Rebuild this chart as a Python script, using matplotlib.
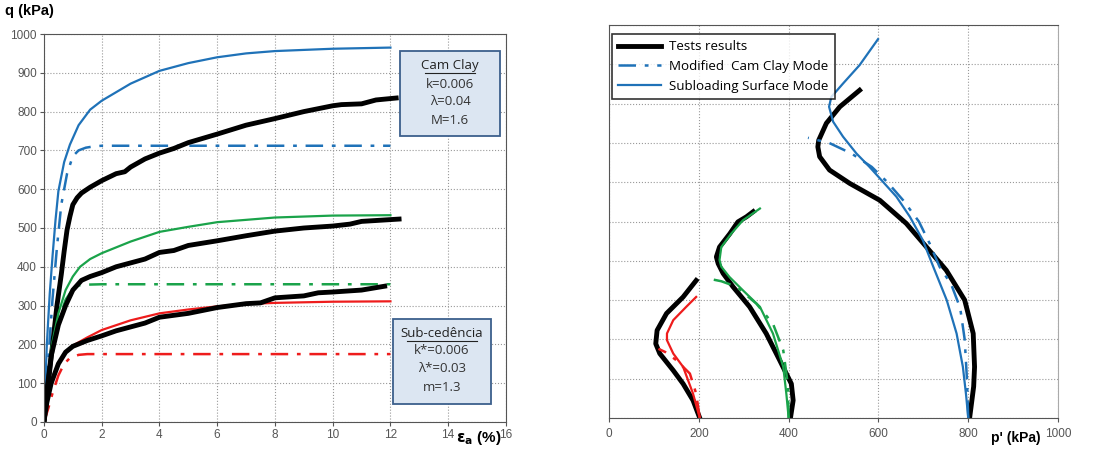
import matplotlib.pyplot as plt
from matplotlib.patches import Rectangle

plt.rcParams['font.family'] = ['Liberation Sans', 'DejaVu Sans']

# ---- q vs axial strain (left) ----
ea_test800 = [0, 0.15, 0.3, 0.45, 0.6, 0.7, 0.8, 0.9, 1.0, 1.15, 1.3, 1.6, 2.0, 2.5, 2.8, 3.0, 3.5, 4.0, 4.5, 5.0, 6.0, 7.0, 8.0, 9.0, 10.0, 10.3, 11.0, 11.5, 12.2]
q_test800 = [0, 100, 200, 300, 380, 440, 495, 530, 560, 578, 590, 605, 622, 640, 645, 657, 678, 693, 705, 720, 742, 765, 782, 800, 815, 818, 820, 830, 835]
ea_ss800 = [0, 0.1, 0.2, 0.3, 0.4, 0.5, 0.7, 0.9, 1.2, 1.6, 2.0, 3.0, 4.0, 5.0, 6.0, 7.0, 8.0, 10.0, 12.0]
q_ss800 = [0, 200, 330, 430, 520, 595, 670, 715, 765, 805, 828, 872, 905, 925, 940, 950, 956, 962, 965]
ea_mcc800 = [0, 0.15, 0.3, 0.45, 0.6, 0.8, 1.0, 1.2, 1.45, 1.7, 2.0, 12.0]
q_mcc800 = [0, 160, 320, 450, 560, 640, 685, 700, 707, 710, 712, 712]

ea_test400 = [0, 0.1, 0.25, 0.5, 0.75, 1.0, 1.3, 1.6, 2.0, 2.5, 3.0, 3.5, 4.0, 4.5, 5.0, 6.0, 7.0, 8.0, 9.0, 10.0, 10.6, 11.0, 12.3]
q_test400 = [0, 80, 170, 250, 300, 340, 365, 375, 385, 400, 410, 420, 437, 442, 455, 467, 480, 492, 500, 505, 510, 517, 523]
ea_ss400 = [0, 0.1, 0.25, 0.5, 0.75, 1.0, 1.25, 1.6, 2.0, 3.0, 4.0, 5.0, 6.0, 8.0, 10.0, 12.0]
q_ss400 = [0, 90, 190, 280, 340, 375, 400, 420, 435, 465, 490, 503, 515, 527, 532, 533]
ea_mcc400 = [0, 0.1, 0.25, 0.5, 0.75, 1.0, 1.2, 1.5, 2.0, 12.0]
q_mcc400 = [0, 90, 180, 260, 315, 343, 352, 354, 355, 355]

ea_test200 = [0, 0.1, 0.25, 0.5, 0.75, 1.0, 1.5, 2.0, 2.5, 3.0, 3.5, 4.0, 5.0, 6.0, 7.0, 7.5, 8.0, 9.0, 9.5, 10.0, 11.0, 11.8]
q_test200 = [0, 50, 100, 150, 180, 195, 210, 222, 235, 245, 255, 270, 280, 295, 305, 307, 320, 325, 333, 335, 340, 350]
ea_ss200 = [0, 0.1, 0.25, 0.5, 0.75, 1.0, 1.5, 2.0, 3.0, 4.0, 5.0, 6.0, 7.0, 8.0, 10.0, 12.0]
q_ss200 = [0, 50, 100, 150, 180, 197, 218, 237, 262, 280, 290, 298, 304, 307, 310, 311]
ea_mcc200 = [0, 0.15, 0.3, 0.5, 0.7, 0.9, 1.2, 1.5, 12.0]
q_mcc200 = [0, 35, 75, 120, 150, 165, 173, 175, 175]

# ---- q vs p' (right) ----
p_test800 = [803, 812, 814, 811, 792, 751, 707, 662, 603, 536, 491, 469, 465, 467, 484, 514, 558]
qp_test800 = [0, 80, 130, 215, 300, 376, 435, 495, 554, 597, 631, 665, 690, 707, 750, 792, 834]
p_ss800 = [800, 795, 788, 774, 752, 722, 699, 670, 640, 610, 580, 551, 521, 499, 490, 495, 521, 558, 599]
qp_ss800 = [0, 60, 130, 215, 300, 385, 452, 512, 563, 601, 639, 673, 716, 754, 792, 817, 851, 898, 964]
p_mcc800 = [800, 797, 792, 782, 762, 736, 714, 690, 655, 620, 585, 540, 490, 443]
qp_mcc800 = [0, 100, 200, 280, 340, 385, 444, 500, 554, 600, 639, 673, 700, 713]

p_test400 = [404, 410, 406, 380, 350, 313, 276, 254, 243, 239, 246, 269, 287, 306, 321]
qp_test400 = [0, 45, 87, 147, 215, 283, 334, 368, 393, 410, 435, 469, 499, 512, 525]
p_ss400 = [400, 395, 388, 365, 336, 298, 268, 250, 246, 250, 272, 298, 336]
qp_ss400 = [0, 60, 130, 215, 283, 325, 359, 385, 402, 435, 469, 503, 533]
p_mcc400 = [400, 398, 388, 365, 328, 284, 250, 220]
qp_mcc400 = [0, 87, 172, 240, 291, 334, 348, 355]

p_test200 = [202, 187, 165, 143, 113, 104, 107, 128, 165, 194]
qp_test200 = [0, 45, 87, 121, 164, 189, 223, 266, 308, 350]
p_ss200 = [202, 187, 165, 143, 129, 129, 143, 172, 194]
qp_ss200 = [0, 62, 130, 164, 198, 215, 249, 283, 308]
p_mcc200 = [202, 194, 180, 150, 125, 110]
qp_mcc200 = [0, 62, 113, 147, 168, 176]

camclay_title = 'Cam Clay'
camclay_lines = ['k=0.006', 'λ=0.04', 'M=1.6']
subyield_title = 'Sub-cedência'
subyield_lines = ['k*=0.006', 'λ*=0.03', 'm=1.3']

BLUE = '#1f72b8'
GREEN = '#1aa34a'
RED = '#ee1c1c'
DASHDOT = (0, (7, 3.5, 1.5, 3.5))
tfont = ['Open Sans', 'DejaVu Sans']

fig = plt.figure(figsize=(10.96, 4.54), dpi=100)

ax1 = fig.add_axes([0.0401, 0.0705, 0.4215, 0.8546])
ax1.plot(ea_ss800, q_ss800, color=BLUE, lw=1.6)
ax1.plot(ea_mcc800, q_mcc800, color=BLUE, lw=1.8, ls=DASHDOT)
ax1.plot(ea_test800, q_test800, color='black', lw=3.5)
ax1.plot(ea_ss400, q_ss400, color=GREEN, lw=1.6)
ax1.plot(ea_mcc400, q_mcc400, color=GREEN, lw=1.8, ls=DASHDOT)
ax1.plot(ea_test400, q_test400, color='black', lw=3.5)
ax1.plot(ea_ss200, q_ss200, color=RED, lw=1.6)
ax1.plot(ea_mcc200, q_mcc200, color=RED, lw=1.8, ls=DASHDOT)
ax1.plot(ea_test200, q_test200, color='black', lw=3.5)
ax1.set_xlim(0, 16)
ax1.set_ylim(0, 1000)
ax1.set_xticks(range(0, 17, 2))
ax1.set_yticks(range(0, 1001, 100))
ax1.grid(True, color='#999999', ls=':', lw=0.8)
ax1.tick_params(labelsize=8.5, colors='#555555', length=3, pad=2)
for s in ax1.spines.values():
    s.set_color('#555555')
ax1.text(-0.085, 1.04, 'q (kPa)', transform=ax1.transAxes, fontsize=10.5,
         fontweight='bold', ha='left', va='bottom')
ax1.text(0.99, -0.04, r'$\mathbf{\varepsilon_a}$ (%)', transform=ax1.transAxes,
         fontsize=11, fontweight='bold', ha='right', va='center')

# parameter boxes: (x0, x1, y0, y1) in data units, text rows in q
boxes = [
    ((12.33, 15.8, 737, 956), camclay_title, camclay_lines, [918, 871, 825, 778], 0.88),
    ((12.09, 15.48, 46, 265), subyield_title, subyield_lines, [229, 183, 137, 88], 1.2),
]
for (x0, x1, y0, y1), title, lines, rows, uw in boxes:
    ax1.add_patch(Rectangle((x0, y0), x1 - x0, y1 - y0, facecolor='#dce6f2',
                            edgecolor='#3c5f8c', lw=1.3, zorder=5, clip_on=False))
    cx = (x0 + x1) / 2
    ax1.text(cx, rows[0], title, ha='center', va='center', fontsize=9.5,
             family=tfont, zorder=6, color='#222222')
    ax1.plot([cx - uw, cx + uw], [rows[0] - 19, rows[0] - 19], color='#222222',
             lw=0.8, zorder=6)
    for r, ln in zip(rows[1:], lines):
        ax1.text(cx, r, ln, ha='center', va='center', fontsize=9.5,
                 family=tfont, zorder=6, color='#333333')

ax2 = fig.add_axes([0.5557, 0.0793, 0.4097, 0.8656])
ax2.plot(p_test800, qp_test800, color='black', lw=3.5, label='Tests results')
ax2.plot(p_mcc800, qp_mcc800, color=BLUE, lw=1.8, ls=DASHDOT, label='Modified  Cam Clay Mode')
ax2.plot(p_ss800, qp_ss800, color=BLUE, lw=1.6, label='Subloading Surface Mode')
ax2.plot(p_test400, qp_test400, color='black', lw=3.5)
ax2.plot(p_mcc400, qp_mcc400, color=GREEN, lw=1.8, ls=DASHDOT)
ax2.plot(p_ss400, qp_ss400, color=GREEN, lw=1.6)
ax2.plot(p_test200, qp_test200, color='black', lw=3.5)
ax2.plot(p_mcc200, qp_mcc200, color=RED, lw=1.8, ls=DASHDOT)
ax2.plot(p_ss200, qp_ss200, color=RED, lw=1.6)
ax2.set_xlim(0, 1000)
ax2.set_ylim(0, 1000)
ax2.set_xticks(range(0, 1001, 200))
ax2.set_yticks(range(0, 1001, 100))
ax2.set_yticklabels([])
ax2.tick_params(axis='y', length=0)
ax2.tick_params(axis='x', labelsize=8.5, colors='#555555', length=3, pad=4)
ax2.grid(True, color='#999999', ls=':', lw=0.8)
for s in ax2.spines.values():
    s.set_color('#555555')
ax2.spines['right'].set_color('#aaaaaa')
leg = ax2.legend(loc='upper left', bbox_to_anchor=(0.0, 0.985),
                 prop={'family': tfont, 'size': 9.6}, frameon=True, fancybox=False,
                 edgecolor='black', handlelength=3.2, borderpad=0.5, labelspacing=0.5,
                 borderaxespad=0.2, handletextpad=0.6)
leg.get_frame().set_linewidth(1.2)
leg.set_zorder(10)
ax2.text(0.962, -0.05, "p' (kPa)", transform=ax2.transAxes, fontsize=10,
         fontweight='bold', ha='right', va='center')

fig.savefig('out.png', dpi=100)
